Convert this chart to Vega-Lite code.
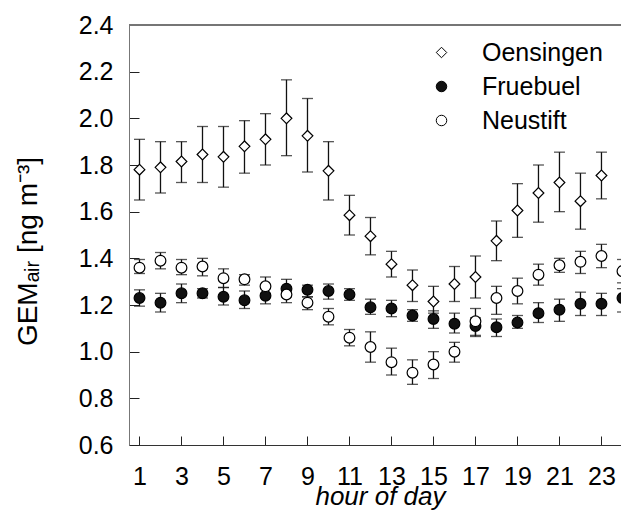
{
  "$schema": "https://vega.github.io/schema/vega-lite/v6.json",
  "autosize": {"type": "none"},
  "padding": {"left": 129, "top": 25, "right": 0, "bottom": 80},
  "width": 492,
  "height": 420,
  "background": "white",
  "config": {
    "font": "Liberation Sans",
    "view": {"stroke": null},
    "axis": {"grid": false, "labelFont": "Liberation Sans", "titleFont": "Liberation Sans", "labelColor": "black", "titleColor": "black", "titleFontWeight": "normal", "domainColor": "#777", "tickColor": "#222", "labelFontSize": 25, "titleFontSize": 25},
    "legend": {"labelFont": "Liberation Sans", "labelFontSize": 25, "labelColor": "black"}
  },
  "data": {"values": [
    {"h":1,"site":"Oensingen","v":1.78,"lo":1.65,"hi":1.91},
    {"h":2,"site":"Oensingen","v":1.79,"lo":1.68,"hi":1.90},
    {"h":3,"site":"Oensingen","v":1.815,"lo":1.725,"hi":1.90},
    {"h":4,"site":"Oensingen","v":1.845,"lo":1.725,"hi":1.965},
    {"h":5,"site":"Oensingen","v":1.835,"lo":1.705,"hi":1.965},
    {"h":6,"site":"Oensingen","v":1.88,"lo":1.765,"hi":1.99},
    {"h":7,"site":"Oensingen","v":1.91,"lo":1.80,"hi":2.02},
    {"h":8,"site":"Oensingen","v":2.00,"lo":1.84,"hi":2.165},
    {"h":9,"site":"Oensingen","v":1.925,"lo":1.77,"hi":2.085},
    {"h":10,"site":"Oensingen","v":1.775,"lo":1.65,"hi":1.90},
    {"h":11,"site":"Oensingen","v":1.585,"lo":1.50,"hi":1.67},
    {"h":12,"site":"Oensingen","v":1.495,"lo":1.415,"hi":1.575},
    {"h":13,"site":"Oensingen","v":1.375,"lo":1.32,"hi":1.43},
    {"h":14,"site":"Oensingen","v":1.285,"lo":1.215,"hi":1.35},
    {"h":15,"site":"Oensingen","v":1.215,"lo":1.165,"hi":1.28},
    {"h":16,"site":"Oensingen","v":1.29,"lo":1.215,"hi":1.365},
    {"h":17,"site":"Oensingen","v":1.32,"lo":1.23,"hi":1.41},
    {"h":18,"site":"Oensingen","v":1.475,"lo":1.39,"hi":1.56},
    {"h":19,"site":"Oensingen","v":1.605,"lo":1.49,"hi":1.72},
    {"h":20,"site":"Oensingen","v":1.68,"lo":1.555,"hi":1.80},
    {"h":21,"site":"Oensingen","v":1.725,"lo":1.60,"hi":1.855},
    {"h":22,"site":"Oensingen","v":1.645,"lo":1.525,"hi":1.765},
    {"h":23,"site":"Oensingen","v":1.755,"lo":1.655,"hi":1.855},
    {"h":1,"site":"Fruebuel","v":1.23,"lo":1.195,"hi":1.265},
    {"h":2,"site":"Fruebuel","v":1.21,"lo":1.17,"hi":1.25},
    {"h":3,"site":"Fruebuel","v":1.25,"lo":1.21,"hi":1.29},
    {"h":4,"site":"Fruebuel","v":1.25,"lo":1.23,"hi":1.27},
    {"h":5,"site":"Fruebuel","v":1.235,"lo":1.20,"hi":1.275},
    {"h":6,"site":"Fruebuel","v":1.22,"lo":1.185,"hi":1.26},
    {"h":7,"site":"Fruebuel","v":1.24,"lo":1.205,"hi":1.275},
    {"h":8,"site":"Fruebuel","v":1.27,"lo":1.235,"hi":1.31},
    {"h":9,"site":"Fruebuel","v":1.265,"lo":1.235,"hi":1.285},
    {"h":10,"site":"Fruebuel","v":1.26,"lo":1.225,"hi":1.29},
    {"h":11,"site":"Fruebuel","v":1.245,"lo":1.22,"hi":1.27},
    {"h":12,"site":"Fruebuel","v":1.19,"lo":1.16,"hi":1.225},
    {"h":13,"site":"Fruebuel","v":1.185,"lo":1.15,"hi":1.22},
    {"h":14,"site":"Fruebuel","v":1.155,"lo":1.13,"hi":1.18},
    {"h":15,"site":"Fruebuel","v":1.14,"lo":1.10,"hi":1.175},
    {"h":16,"site":"Fruebuel","v":1.12,"lo":1.08,"hi":1.165},
    {"h":17,"site":"Fruebuel","v":1.11,"lo":1.065,"hi":1.145},
    {"h":18,"site":"Fruebuel","v":1.105,"lo":1.065,"hi":1.14},
    {"h":19,"site":"Fruebuel","v":1.125,"lo":1.10,"hi":1.155},
    {"h":20,"site":"Fruebuel","v":1.165,"lo":1.125,"hi":1.21},
    {"h":21,"site":"Fruebuel","v":1.18,"lo":1.13,"hi":1.225},
    {"h":22,"site":"Fruebuel","v":1.205,"lo":1.155,"hi":1.255},
    {"h":23,"site":"Fruebuel","v":1.205,"lo":1.155,"hi":1.25},
    {"h":24,"site":"Fruebuel","v":1.23,"lo":1.17,"hi":1.27},
    {"h":1,"site":"Neustift","v":1.36,"lo":1.335,"hi":1.395},
    {"h":2,"site":"Neustift","v":1.39,"lo":1.355,"hi":1.425},
    {"h":3,"site":"Neustift","v":1.36,"lo":1.33,"hi":1.395},
    {"h":4,"site":"Neustift","v":1.365,"lo":1.325,"hi":1.40},
    {"h":5,"site":"Neustift","v":1.315,"lo":1.275,"hi":1.355},
    {"h":6,"site":"Neustift","v":1.31,"lo":1.285,"hi":1.33},
    {"h":7,"site":"Neustift","v":1.28,"lo":1.25,"hi":1.32},
    {"h":8,"site":"Neustift","v":1.245,"lo":1.21,"hi":1.275},
    {"h":9,"site":"Neustift","v":1.21,"lo":1.18,"hi":1.235},
    {"h":10,"site":"Neustift","v":1.15,"lo":1.115,"hi":1.185},
    {"h":11,"site":"Neustift","v":1.06,"lo":1.025,"hi":1.095},
    {"h":12,"site":"Neustift","v":1.02,"lo":0.955,"hi":1.085},
    {"h":13,"site":"Neustift","v":0.955,"lo":0.90,"hi":1.015},
    {"h":14,"site":"Neustift","v":0.91,"lo":0.86,"hi":0.965},
    {"h":15,"site":"Neustift","v":0.945,"lo":0.885,"hi":1.00},
    {"h":16,"site":"Neustift","v":1.00,"lo":0.955,"hi":1.04},
    {"h":17,"site":"Neustift","v":1.13,"lo":1.07,"hi":1.185},
    {"h":18,"site":"Neustift","v":1.23,"lo":1.16,"hi":1.28},
    {"h":19,"site":"Neustift","v":1.26,"lo":1.205,"hi":1.315},
    {"h":20,"site":"Neustift","v":1.33,"lo":1.285,"hi":1.375},
    {"h":21,"site":"Neustift","v":1.37,"lo":1.34,"hi":1.40},
    {"h":22,"site":"Neustift","v":1.385,"lo":1.335,"hi":1.43},
    {"h":23,"site":"Neustift","v":1.41,"lo":1.36,"hi":1.46},
    {"h":24,"site":"Neustift","v":1.345,"lo":1.295,"hi":1.395}
  ]},
  "layer": [
    {
      "mark": {"type": "rule", "color": "#777", "strokeWidth": 1},
      "encoding": {"y": {"datum": 2.4, "type": "quantitative"}}
    },
    {
      "mark": {"type": "errorbar", "ticks": {"size": 11, "thickness": 1.3, "color": "#111"}, "rule": {"strokeWidth": 1.3, "color": "#111"}},
      "encoding": {
        "x": {"field": "h", "type": "quantitative"},
        "y": {"field": "lo", "type": "quantitative", "title": "GEMₐᵢᵣ [ng m⁻³]"},
        "y2": {"field": "hi"},
        "detail": {"field": "site"}
      }
    },
    {
      "mark": {"type": "point", "filled": false, "strokeWidth": 1.2, "opacity": 1},
      "encoding": {
        "x": {"field": "h", "type": "quantitative",
          "scale": {"domain": [0.5, 23.93], "nice": false, "zero": false},
          "axis": {"title": "hour of day", "titleFontStyle": "italic", "titleFontSize": 26, "values": [1,3,5,7,9,11,13,15,17,19,21,23], "tickSize": -9, "labelPadding": 28, "titlePadding": -6, "titleX": 251, "domainColor": "#333", "labelFlush": false}},
        "y": {"field": "v", "type": "quantitative",
          "scale": {"domain": [0.6, 2.4], "nice": false, "zero": false},
          "axis": {"title": "GEMₐᵢᵣ [ng m⁻³]", "titleFontSize": 28, "titleY": 226, "values": [0.6,0.8,1.0,1.2,1.4,1.6,1.8,2.0,2.2,2.4], "format": ".1f", "tickSize": -10, "labelPadding": 26, "titlePadding": 36, "labelFlush": false}},
        "shape": {"field": "site", "type": "nominal", "scale": {"domain": ["Oensingen","Fruebuel","Neustift"], "range": ["diamond","circle","circle"]},
          "legend": {"title": null, "orient": "none", "legendX": 300, "legendY": 15, "symbolSize": 110, "symbolStrokeWidth": 1, "labelOffset": 28, "rowPadding": 8, "padding": 0}},
        "fill": {"field": "site", "type": "nominal", "scale": {"domain": ["Oensingen","Fruebuel","Neustift"], "range": ["white","#111","white"]},
          "legend": {"title": null, "orient": "none", "legendX": 300, "legendY": 15, "symbolSize": 110, "symbolStrokeWidth": 1, "labelOffset": 28, "rowPadding": 8, "padding": 0}},
        "stroke": {"field": "site", "type": "nominal", "scale": {"domain": ["Oensingen","Fruebuel","Neustift"], "range": ["black","black","black"]},
          "legend": {"title": null, "orient": "none", "legendX": 300, "legendY": 15, "symbolSize": 110, "symbolStrokeWidth": 1, "labelOffset": 28, "rowPadding": 8, "padding": 0}},
        "size": {"value": 115}
      }
    }
  ]
}
